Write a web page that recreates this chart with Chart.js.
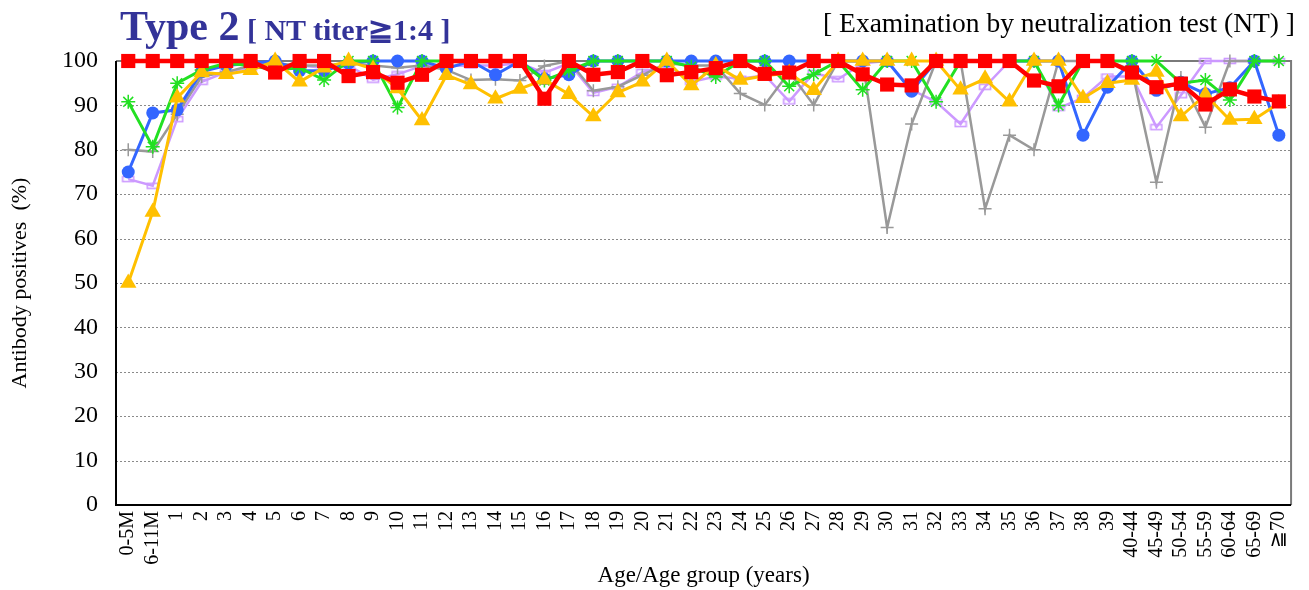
<!DOCTYPE html>
<html><head><meta charset="utf-8">
<script src="https://cdn.jsdelivr.net/npm/chart.js@4.4.1/dist/chart.umd.min.js"></script>
<style>
html,body{margin:0;padding:0;background:#fff;}
#wrap{position:relative;width:1309px;height:590px;overflow:hidden;}
#c{position:absolute;left:0;top:0;}
.t{position:absolute;font-family:'Liberation Serif','Times New Roman',serif;white-space:nowrap;line-height:1;}
</style></head><body>
<div id="wrap">
<canvas id="c" width="1309" height="590"></canvas>
<div class="t" style="left:120px;top:5px;font-size:42px;font-weight:bold;color:#333399;">Type 2<span style="font-size:30px;"> [ NT titer≧1:4 ]</span></div>
<div class="t" style="right:14px;top:9px;font-size:27.5px;color:#000;">[ Examination by neutralization test (NT) ]</div>
</div>
<script>
const categories = ['0-5M','6-11M','1','2','3','4','5','6','7','8','9','10','11','12','13','14','15','16','17','18','19','20','21','22','23','24','25','26','27','28','29','30','31','32','33','34','35','36','37','38','39','40-44','45-49','50-54','55-59','60-64','65-69','≧70'];
const yTicks = [0,10,20,30,40,50,60,70,80,90,100];

const redSeries = [100,100,100,100,100,100,97.4,100,100,96.6,97.5,95.1,96.9,100,100,100,100,91.5,100,96.9,97.5,100,96.8,97.5,98.4,100,97.1,97.4,100,100,97.0,94.7,94.5,100,100,100,100,95.6,94.3,100,100,97.4,94.1,94.9,90.2,93.6,92.0,90.9];
const blueSeries = [75,88.3,89,97.6,99,99.5,100,97.8,97.8,99.5,100,100,100,98.3,100,96.9,100,96,96.9,100,100,100,100,100,100,100,100,100,100,100,100,100,93.2,100,100,100,100,100,100,83.3,94.1,100,93.4,95.2,92.6,94,100,83.3];
const greenSeries = [90.8,80.7,95,98,99.5,99,98,98.5,95.7,100,100,89.5,100,100,100,100,100,95.6,97.8,100,100,100,100,98.7,96.4,100,100,94.3,97,100,93.5,100,100,90.8,100,100,100,100,90,100,100,100,100,95,95.7,91.2,100,100];
const yellowSeries = [50,66,91.7,97.4,97,97.9,100,95.3,98.5,100,98.2,93.8,86.6,96.8,94.7,91.5,93.7,95.8,92.5,87.5,92.9,95.3,100,94.5,99,95.7,96.7,97.3,93.4,100,100,100,100,100,93.5,96,90.8,100,100,91.6,95,95.7,97.5,87.5,92.4,86.7,86.9,90.5];
const graySeries = [80,79.6,88,96.5,97.5,99,99.5,99,99,99.5,99,98.5,99,98,95.7,95.9,95.6,98.9,100,93.3,94.2,96.8,99.5,99,99,92.7,90.1,97.5,90.1,100,100,62.5,85.8,100,100,66.7,83.3,80,100,100,100,98,72.7,96.3,85.1,100,100,100];
const lavenderSeries = [73.4,71.9,86.9,95.3,97.5,98.5,98.5,99,98.5,99,95.8,97,98.9,98.9,99,99,99.5,97.3,99.5,92.8,94.2,97.5,99.1,95.3,96.5,96,96.8,90.9,97.3,95.9,99.5,100,93.5,90.8,85.8,94.2,100,100,89.4,91.7,96.5,96.5,85.1,92.3,100,100,100,100];

function dashMarker(color){
  const c=document.createElement('canvas'); c.width=14; c.height=8;
  const g=c.getContext('2d'); g.strokeStyle=color; g.lineWidth=1.6;
  g.strokeRect(1.5,1.5,11,5); return c;
}

const serif = "'Liberation Serif','Times New Roman',serif";

const framePlugin = {
  id:'frame',
  beforeDatasetsDraw(chart){
    const {ctx, chartArea:a, scales:{y}} = chart;
    ctx.save();
    ctx.strokeStyle='#8a8a8a'; ctx.lineWidth=1; ctx.setLineDash([2,2]);
    yTicks.forEach(v=>{ if(v>0 && v<100){ const py=Math.round(y.getPixelForValue(v))+0.5; ctx.beginPath(); ctx.moveTo(a.left,py); ctx.lineTo(a.right,py); ctx.stroke(); }});
    ctx.setLineDash([]);
    ctx.strokeStyle='#7a7a7a'; ctx.lineWidth=2;
    ctx.beginPath(); ctx.moveTo(a.left,a.top); ctx.lineTo(a.right,a.top); ctx.lineTo(a.right,a.bottom); ctx.stroke();
    ctx.strokeStyle='#000';
    ctx.beginPath(); ctx.moveTo(a.left,a.top); ctx.lineTo(a.left,a.bottom); ctx.lineTo(a.right,a.bottom); ctx.stroke();
    ctx.restore();
  }
};

function ds(data,color,opts){
  return Object.assign({data, borderColor:color, backgroundColor:color, pointBackgroundColor:color, pointBorderColor:color,
    borderWidth:3, tension:0, clip:false, pointHoverRadius:0}, opts);
}

new Chart(document.getElementById('c'), {
  type:'line',
  data:{
    labels:categories,
    datasets:[
      ds(redSeries,'#FF0000',{borderWidth:4.5, pointStyle:'rect', pointRadius:10, pointBorderWidth:0}),
      ds(yellowSeries,'#FFC000',{pointStyle:'triangle', pointRadius:9.5, pointBorderWidth:0}),
      ds(greenSeries,'#22E022',{pointStyle:'star', pointRadius:7, pointBorderWidth:1.5}),
      ds(blueSeries,'#3366FF',{pointStyle:'circle', pointRadius:6.5, pointBorderWidth:0}),
      ds(graySeries,'#999999',{pointStyle:'cross', pointRadius:6.5, pointBorderWidth:1.5, borderWidth:2.5}),
      ds(lavenderSeries,'#CC99FF',{pointStyle:dashMarker('#CC99FF'), pointRadius:6, borderWidth:2.5})
    ]
  },
  options:{
    responsive:false, animation:false, events:[],
    layout:{padding:{top:61,right:16,left:0,bottom:0}},
    plugins:{legend:{display:false}, tooltip:{enabled:false}},
    scales:{
      x:{
        type:'category', offset:true,
        grid:{display:false, drawTicks:false}, border:{display:false},
        ticks:{autoSkip:false, minRotation:90, maxRotation:90, padding:6, color:'#000', font:{family:serif, size:20}},
        title:{display:true, text:'Age/Age group (years)', color:'#000', font:{family:serif, size:23}, padding:{top:0,bottom:0}},
        afterFit(s){ s.height = 85; }
      },
      y:{
        min:0, max:100,
        afterBuildTicks(s){ s.ticks = yTicks.map(v=>({value:v})); },
        grid:{display:false, drawTicks:false}, border:{display:false},
        ticks:{padding:18, color:'#000', font:{family:serif, size:24}},
        title:{display:true, text:'Antibody positives  (%)', color:'#000', font:{family:serif, size:22}, padding:{top:7,bottom:0}},
        afterFit(s){ s.width = 116; }
      }
    }
  },
  plugins:[framePlugin]
});
</script>
</body></html>
